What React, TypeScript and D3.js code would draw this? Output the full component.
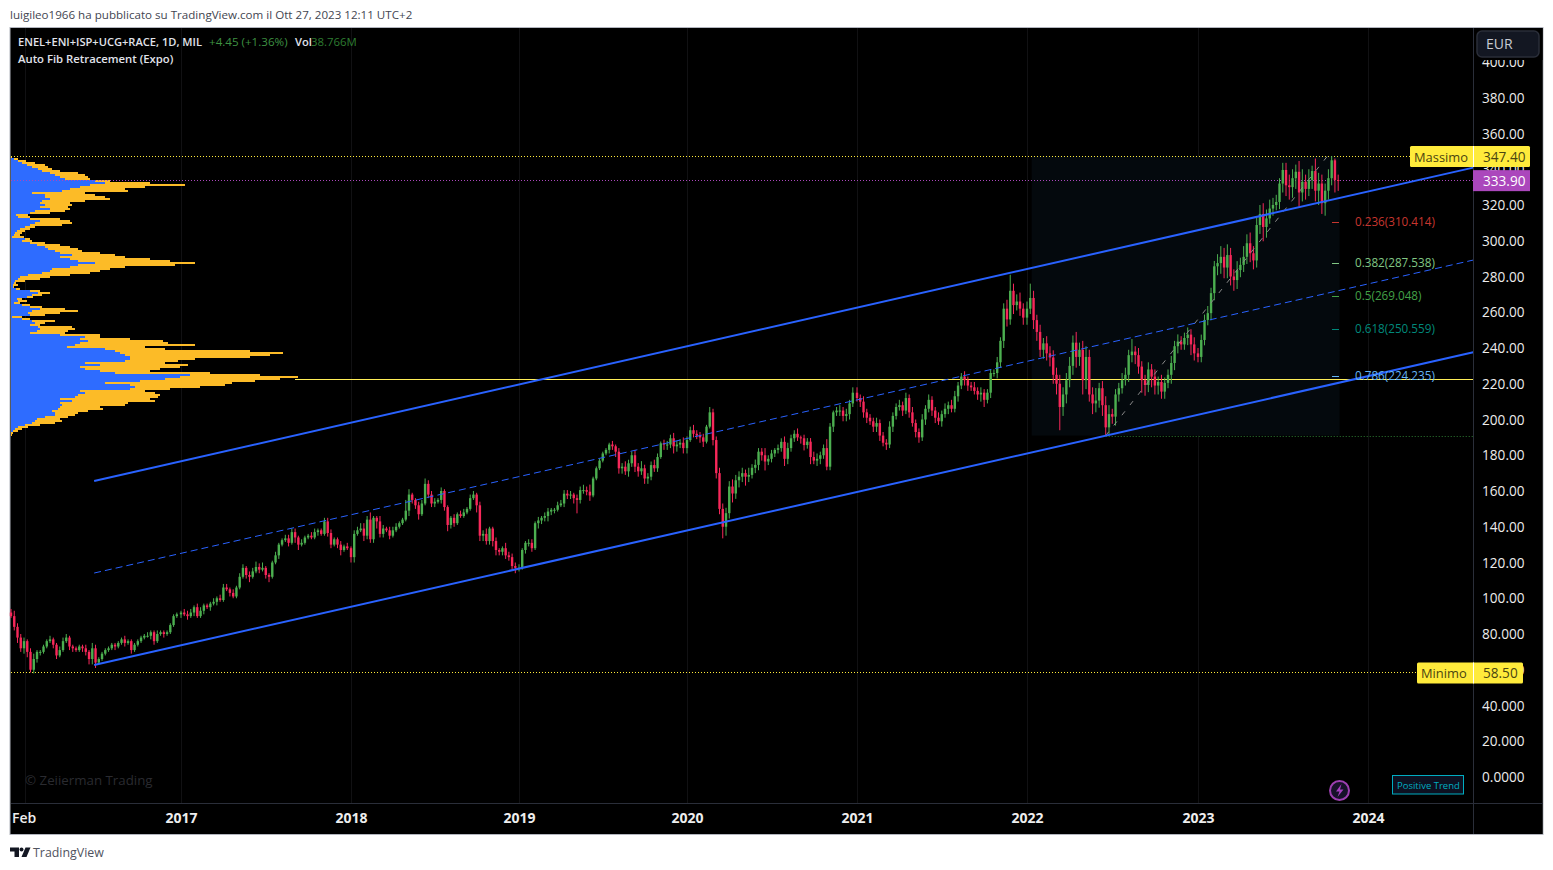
import React from 'react';
import * as d3 from 'd3';

// weekly closes, one list per year
const closes2016 = [90,84,78,72,76,70,60,66,70,70,73,76,77,74,68,71,76,78,73,72,71,73,72,70,66,72,64,66,69,71,72,74,73,75,77,75,76,71,74,76,78,79,79,81,76,80,81,80,81,85,90,91];
const closes2017 = [92,91,90,92,95,90,93,96,95,97,98,100,99,106,105,103,101,106,112,117,113,112,115,117.5,116,117,113,112,120,124,130,132.5,133.5,131,137,134,130,131,134,135,134,137,138,136,143,136.5,130,133,130,127,129,128];
const closes2018 = [123,136,138,139,135,144,133,145,143,136,139,138,135,138,140,142,144,149,158,155,152,147,153,164,158,153,154,155,160,151,141,145,142,147,146,148,150,156,158,152,135,136,132,139,132,127,126,128,124,123,118,117];
const closes2019 = [117,127,131,131,128,142,143.5,145,146,148.5,149.5,149.5,152,153,158.5,157.5,158,156,155,160.5,160.5,159.6,157.5,167,172.7,177,181,183,186,185,182,172.7,173.6,171,175.5,180,173.6,171,172.7,167,168,174.5,172.7,179,186.7,186,186,189.5,185,186,187,184];
const closes2020 = [188.5,194,192,191,190,187.6,196,204,188.5,170,150,140,147.6,162.5,158.6,166,168,170,168,169,173,174.6,182,180,176.5,178,181,183,184,187.5,178,184,189.5,192,190,189.5,185.7,187.6,179,177,178,180,184,173.6,196,204,205,205,202,203,209,215];
const closes2021 = [212,210,204,201,199,196,198,191,187,186,196,202,207,208,205,212,204,198,193,190,200,206,211,205,201,199,203,206,208,206,213,219,224,222,219,218,216,214,215,211,215,226,226,232,244,262,256,272,264,266,262,257];
const closes2022 = [262,268,255.6,249,239,242.6,237,234.7,225,220,207,214,222,230,243,235,239,222,235,214,209,210.6,217.5,208,195.6,203,201.6,214,217.5,222,225,236,238,236,229.6,222,219.3,228,224,219,221,215.6,220.5,225,231.6,241,243.6,242,245.6,247.5,242,237];
const closes2023 = [235,244.5,255.7,259.5,270.7,285.7,287.5,291,285,292,280,278,283.6,286.5,291,298.6,293,289,308.8,315,307.7,312.5,318,320,321.7,332,339.6,331,330,335,338.6,327,333,329,334,339,328,332,321,328,335,345,334,333.9];

const up2016 = [2,3,2,2,2,1,2,3,1,1,1,1,2,1,1,2,2,2,1,1,1,1,1,2,1,3,2,1,1,1,1,1,1,1,1,2,1,1,1,1,1,1,2,1,1,2,1,1,1,1,1,1];
const down2016 = [1,2,3,2,3,3,1.5,2,2,2,1,1,1,2,2,1,1,1,2,2,1,1,2,2,3,3,3,1,1,1,1,1,2,1,1,2,1,2,1,1,1,1,1,2,2,1,1,2,1,1,1,1];
const up2017 = [1,2,2,2,1,2,2,1,1,1,2,1,2,2,2,1,2,1,2,2,1,2,2,3,2,3,1,1,1,2,1,1,2,2,2,2,1,2,1,1,2,2,1,1,2,2,2,1,1,2,1,2];
const down2017 = [2,1,2,1,2,1,1,2,1,2,1,2,1,1,1,2,1,1,1,1,2,3,1,1,2,1,2,3,1,1,2,1,1,2,1,3,3,1,1,1,1,1,2,1,1,2,2,1,2,3,1,1];
const up2018 = [1,2,2,3,3,2,4,1,1,3,2,1,2,2,2,1,1,6,3,1,1,2,2,3,2,2,2,1,2,1,1,1,2,1,2,2,1,2,2,1,2,2,3,1,1,2,1,1,3,2,2,2];
const down2018 = [3,3,1,1,3,2,2,2,4,2,2,1,2,1,1,1,1,1,3,2,2,3,1,1,2,2,2,1,2,2,3.5,2,2,1,1,1,1,1,1,4,3,3,2,2,3,3,2,2,2,2,2,3];
const up2019 = [2,1,1,2,2,1,2,1,2,2,1,1,2,2,2,2,2,1,2,2,3,2,4,1,1,1,1,1,1,2,1,2,2,3,2,2,3,2,4,2,2,2,3,2,1,2,2,2,3,2,2,3];
const down2019 = [2,1,2,2,2,1,3,2,2,3,2,2,1,1,2,2,2,3,7.5,2,2,2,3,1,1,1,1,1,2,2,3,3,3,2,3,2,3,3,2,3,3,2,2,2,1,3,3,2,4,3,2,3];
const up2020 = [2,2,3,2,2,2,1,3,2,2,3,3,3,3,4,3,3,3,2,4,2,3,2,2,4,2,2,1,2,2,3,3,2,2,3,1,2,2,2,3,3,2,2,5,2,1,2,3,2,3,2,3];
const down2020 = [3,1,2,2,3,3,1,1,3,3,3,6.5,5,3,5,3,4,3,5,3,2,3,3,3,5,2,2,2,2,2,4,3,2,2,2,3,3,2,4,2,3,3,2,2,2,3,2,3,3,3,3,2];
const up2021 = [3,2,3,2,2,2,3,2,2,2,3,2,2,3,2,3,2,3,2,2,3,2,3,2,2,3,2,3,2,3,3,2,2,3,2,2,3,2,3,2,2,2,2,3,2,3,5,9,4,4,5,3];
const down2021 = [2,3,3,3,2,3,3,3,2,3,2,3,2,2,3,2,3,2,3,3,2,3,2,3,3,2,3,2,3,2,2,3,2,3,3,2,2,3,4,4,2,3,2,3,3,4,4,3,5,3,4,4];
const up2022 = [4,8,4,3,4,3,4,4,4,4,5,4,4,5,4,6,4,5,6,4,4,7,3,4,5,5,3,3,3,4,4,3,7,3,4,3,3,4,3,4,3,4,3,3,4,3,4,3,3,4,3,4];
const down2022 = [4,3,5,5,4,5,4,5,5,6,13,5,5,4,5,6,5,8,5,4,6,5,4,6,4.6,4,4,5,4,3,3,4,4,5,4,7,6,4,6,5,5,4,4,3,5,4,4,3,3,4,6,4];
const up2023 = [3,3,3,4,3,3,5,6,5,6,4,4,5,4,6,5,6,4,4,5,6,5,5,4,4,3,4,4,6,5,4,6,7,4,6,3,7,6,5,4,5,2.4,1,3];
const down2023 = [3,3,3,3,4,4,5,6,6,6,5,6,5,4,4,4,5,5,4,5,8,6,3,4,3,4,5,6,7,6,6,8,5,6,4,5,6,8,6,7,5,4,7,6];

const candleYears = [2016, 2017, 2018, 2019, 2020, 2021, 2022, 2023];
const yearCloses = [closes2016, closes2017, closes2018, closes2019, closes2020, closes2021, closes2022, closes2023];
const yearUps = [up2016, up2017, up2018, up2019, up2020, up2021, up2022, up2023];
const yearDowns = [down2016, down2017, down2018, down2019, down2020, down2021, down2022, down2023];

// volume profile, 1 row every 2px on screen, top row at the high
const profileTotal = [12,18,26,35,45,48,52,60,78,85,88,90,110,150,185,145,125,128,85,95,105,110,85,70,72,68,70,65,50,28,30,60,70,72,62,35,30,25,22,20,24,30,32,45,60,70,78,82,100,115,125,150,170,195,175,125,110,100,90,70,50,40,25,16,18,14,20,40,50,42,33,22,27,20,30,42,65,78,60,45,22,30,55,45,40,72,75,68,65,100,100,130,163,168,195,145,165,250,283,270,250,195,178,165,188,180,160,150,210,260,298,280,255,232,225,200,170,145,155,160,158,150,155,128,125,100,103,88,78,75,68,60,62,55,40,28,22,18,13,12];
const profileUp = [11,14,18,22,27,32,38,42,50,55,60,65,95,105,90,80,70,62,32,45,45,50,42,40,45,40,50,35,30,16,18,30,40,35,30,25,20,17,15,14,12,25,22,30,37,45,48,55,60,72,60,70,78,95,78,70,52,50,42,28,20,18,15,14,13,13,16,30,38,32,27,17,18,14,22,30,40,32,28,30,12,22,32,35,30,38,40,37,30,60,85,80,88,80,75,67,105,115,120,125,130,130,125,85,100,80,85,100,115,190,180,165,140,105,130,135,130,80,85,78,75,60,72,60,62,60,58,52,55,55,45,37,35,32,25,18,15,13,11,10];
const profileHigh = 347.4;
const profileRowStep = 1.119;

const priceTicks = d3.range(0, 401, 20);
const yearTicks = [2017, 2018, 2019, 2020, 2021, 2022, 2023, 2024];
// the axis skips non-trading time, so each year has its own width on screen
const yearPixels = [11, 181, 351, 519, 687, 857, 1027, 1198, 1368];

const fibPrices = [310.414, 287.538, 269.048, 250.559, 224.235];
const fibNames = ['0.236', '0.382', '0.5', '0.618', '0.786'];
const fibColors = ['#c7362f', '#81c784', '#43a047', '#00897b', '#64b5f6'];

const channelDates = [new Date(2016, 5, 28), new Date(2024, 7, 14)];
const channelUpper = [165.6, 340.9];
const channelMiddle = [114.1, 289.2];
const channelLower = [62.7, 237.6];

const highPrice = 347.4;
const lowPrice = 58.5;
const lastPrice = 333.9;
const pocPrice = 222.7;
const fibLowPrice = 191;
const fibLowDate = new Date(2022, 5, 18);
const fibHighDate = new Date(2023, 9, 6);
const fibBoxStart = new Date(2022, 0, 11);
const fibBoxEnd = new Date(2023, 10, 1);

const UI = '"Open Sans", "Noto Sans", sans-serif';
const BULL = '#4caf50';
const BEAR = '#f7285a';
const TAG_YELLOW = '#ffeb3b';

const left = 11, paneRight = 1473, frameRight = 1543, top = 28, paneBottom = 803, frameBottom = 834;

const x = d3.scaleTime()
  .domain([new Date(2016, 0, 1), ...yearTicks.map(t => new Date(t, 0, 1))])
  .range(yearPixels);
const y = d3.scaleLinear().domain([0, 400]).range([777, 62]);
const vol = d3.scaleLinear().domain([0, 300]).range([0, 300]);

const candles = yearCloses.flatMap((closes, yi) =>
  closes.map((close, i) => ({
    date: new Date(candleYears[yi], 0, 1 + i * 7),
    close,
    up: yearUps[yi][i] ?? 2,
    down: yearDowns[yi][i] ?? 2,
  }))
).map((c, i, all) => {
  const open = i > 0 ? all[i - 1].close : c.close + 2;
  return { ...c, open, high: Math.max(open, c.close) + c.up, low: Math.min(open, c.close) - c.down };
});

const priceLabel = (v: number) => (v === 0 ? '0.0000' : v < 100 ? v.toFixed(3) : v.toFixed(2));
const crisp = (v: number) => Math.round(v) + 0.5;

const channelPath = (prices: number[]) =>
  d3.line<number>().x((_, i) => x(channelDates[i])).y(d => y(d))(prices) as string;

const Tag = ({ price, label, value, x0, x1 }: { price: number; label: string; value: string; x0: number; x1: number }) => (
  <g>
    <rect x={x0} y={y(price) - 10} width={x1 - x0} height={21} rx={1.5} fill={TAG_YELLOW} />
    <line x1={paneRight + 0.5} x2={paneRight + 0.5} y1={y(price) - 10} y2={y(price) + 11} stroke="#fff" />
    <text x={x0 + 4} y={y(price) + 5.5} fontSize={12.9} fill="#4a4510">{label}</text>
    <text x={paneRight + 10} y={y(price) + 5.5} fontSize={13.6} fill="#4a4510">{value}</text>
  </g>
);

export default function App() {
  return (
    <svg width={1553} height={870} style={{ position: 'absolute', left: 0, top: 0, display: 'block' }} fontFamily={UI}>
      <rect width={1553} height={870} fill="#fff" />
      <text x={10} y={19} fontSize={11.6} fill="#434651">luigileo1966 ha pubblicato su TradingView.com il Ott 27, 2023 12:11 UTC+2</text>

      {/* frame */}
      <rect x={10} y={27.5} width={frameRight - 10} height={807} fill="#000" stroke="#b2b5be" />

      {/* grid */}
      {[new Date(2016, 1, 1), ...yearTicks.map(t => new Date(t, 0, 1))].map((d, i) => (
        <line key={i} x1={crisp(x(d))} x2={crisp(x(d))} y1={top} y2={paneBottom} stroke="#111113" />
      ))}

      {/* fib box */}
      <rect x={x(fibBoxStart)} y={y(highPrice)} width={x(fibBoxEnd) - x(fibBoxStart)} height={y(fibLowPrice) - y(highPrice)} fill="#04090d" />

      {/* volume profile */}
      {profileTotal.map((v, i) => (
        <rect key={i} x={left} y={Math.round(y(profileHigh - i * profileRowStep))} width={vol(v) - left} height={2} fill="#fcbb27" />
      ))}
      {profileUp.map((v, i) => (
        <rect key={i} x={left} y={Math.round(y(profileHigh - i * profileRowStep))} width={vol(v) - left} height={2} fill="#2e6cff" />
      ))}

      {/* horizontal levels */}
      <line x1={left} x2={1410} y1={crisp(y(highPrice))} y2={crisp(y(highPrice))} stroke={TAG_YELLOW} strokeDasharray="1 2" />
      <line x1={left} x2={1417} y1={crisp(y(lowPrice))} y2={crisp(y(lowPrice))} stroke={TAG_YELLOW} strokeDasharray="1 2" />
      <line x1={left} x2={paneRight} y1={crisp(y(lastPrice))} y2={crisp(y(lastPrice))} stroke="#ab47bc" strokeDasharray="1 2" />
      <line x1={x(fibLowDate)} x2={paneRight} y1={crisp(y(fibLowPrice))} y2={crisp(y(fibLowPrice))} stroke="#2e7d32" strokeDasharray="1 2" />
      <line x1={295} x2={paneRight} y1={crisp(y(pocPrice))} y2={crisp(y(pocPrice))} stroke="#ffee58" />

      {/* candles */}
      {candles.map((c, i) => {
        const cx = x(c.date);
        const top_ = y(Math.max(c.open, c.close));
        const bot = y(Math.min(c.open, c.close));
        const color = c.close >= c.open ? BULL : BEAR;
        return (
          <g key={i}>
            <line x1={cx} x2={cx} y1={y(c.high)} y2={y(c.low)} stroke={color} />
            <rect x={cx - 1.2} y={top_} width={2.4} height={Math.max(bot - top_, 1)} fill={color} />
          </g>
        );
      })}

      {/* fib diagonal */}
      <line x1={x(fibLowDate)} y1={y(fibLowPrice)} x2={x(fibHighDate)} y2={y(highPrice)} stroke="#8a8a8a" strokeDasharray="5 8" />

      {/* channel */}
      <path d={channelPath(channelUpper)} stroke="#2962ff" strokeWidth={2} fill="none" />
      <path d={channelPath(channelLower)} stroke="#2962ff" strokeWidth={2} fill="none" />
      <path d={channelPath(channelMiddle)} stroke="#2962ff" strokeDasharray="7 4" fill="none" />

      {/* fib levels */}
      {fibPrices.map((p, i) => (
        <g key={p}>
          <line x1={1332} x2={1339} y1={crisp(y(p))} y2={crisp(y(p))} stroke={fibColors[i]} />
          <text x={1355} y={y(p) + 4} fontSize={11.7} fill={fibColors[i]}>{`${fibNames[i]}(${p.toFixed(3)})`}</text>
        </g>
      ))}

      {/* legend */}
      <text x={18} y={46} fontSize={11.1} fill="#e0e3eb" fontWeight={600}>ENEL+ENI+ISP+UCG+RACE, 1D, MIL</text>
      <text x={209} y={46} fontSize={11.6} fill="#3e9142">+4.45 (+1.36%)</text>
      <text x={295} y={46} fontSize={11.2} fill="#e0e3eb" fontWeight={600}>Vol</text>
      <text x={311} y={46} fontSize={11.4} fill="#2e7d32">38.766M</text>
      <text x={18} y={63} fontSize={11.3} fill="#e0e3eb" fontWeight={600}>Auto Fib Retracement (Expo)</text>
      <text x={25} y={785} fontSize={13.3} fill="#2a2b30">© Zeiierman Trading</text>

      {/* table and icon */}
      <rect x={1392.5} y={775.5} width={71} height={18.5} fill="#0d1020" stroke="#00acc1" />
      <text x={1397} y={788.5} fontSize={9.5} fill="#00acc1">Positive Trend</text>
      <circle cx={1339.5} cy={790.5} r={9.5} fill="#17122a" stroke="#9c3fb0" strokeWidth={2} />
      <path d="M1341.5 784 L1336 791.5 H1339.5 L1337.5 797 L1343.5 789.5 H1340 Z" fill="#a63fc0" />

      {/* axes */}
      <rect x={paneRight} y={top} width={frameRight - paneRight - 0.5} height={frameBottom - top} fill="#000" />
      <line x1={paneRight + 0.5} x2={paneRight + 0.5} y1={top} y2={frameBottom} stroke="#2a2e39" />
      <line x1={left} x2={frameRight} y1={paneBottom + 0.5} y2={paneBottom + 0.5} stroke="#2a2e39" />

      {priceTicks.map(t => (
        <text key={t} x={1524.5} y={y(t) + 5} textAnchor="end" fontSize={13.6} fontWeight={500} fill="#ececec">{priceLabel(t)}</text>
      ))}
      <text x={12} y={823} fontSize={14} fontWeight={600} fill="#eee">Feb</text>
      {yearTicks.map(t => (
        <text key={t} x={x(new Date(t, 0, 1)) + 0.5} y={823} textAnchor="middle" fontSize={14} fontWeight={700} fill="#eee">{t}</text>
      ))}

      <rect x={paneRight + 1} y={top} width={frameRight - paneRight - 1.5} height={32} fill="#000" />
      <rect x={1477} y={31} width={62} height={26} rx={5} fill="#131722" stroke="#2a2e39" strokeWidth={1.5} />
      <text x={1486} y={49} fontSize={14} fill="#c8cbd3">EUR</text>

      <Tag price={highPrice} label="Massimo" value={highPrice.toFixed(2)} x0={1410} x1={1530} />
      <rect x={paneRight} y={y(lastPrice) - 10} width={57} height={21} fill="#ab47bc" />
      <text x={paneRight + 10} y={y(lastPrice) + 5.5} fontSize={13.6} fill="#fff">{lastPrice.toFixed(2)}</text>
      <Tag price={lowPrice} label="Minimo" value={lowPrice.toFixed(2)} x0={1417} x1={1523} />

      {/* footer logo */}
      <path d="M10 847.5 H19 V857 H14.5 V851.5 H10 Z" fill="#131722" />
      <circle cx={21.5} cy={849.5} r={2} fill="#131722" />
      <path d="M25.5 847.5 H30.5 L26.5 857 H21.5 Z" fill="#131722" />
      <text x={33} y={857} fontSize={12.4} fill="#50535e">TradingView</text>
    </svg>
  );
}
